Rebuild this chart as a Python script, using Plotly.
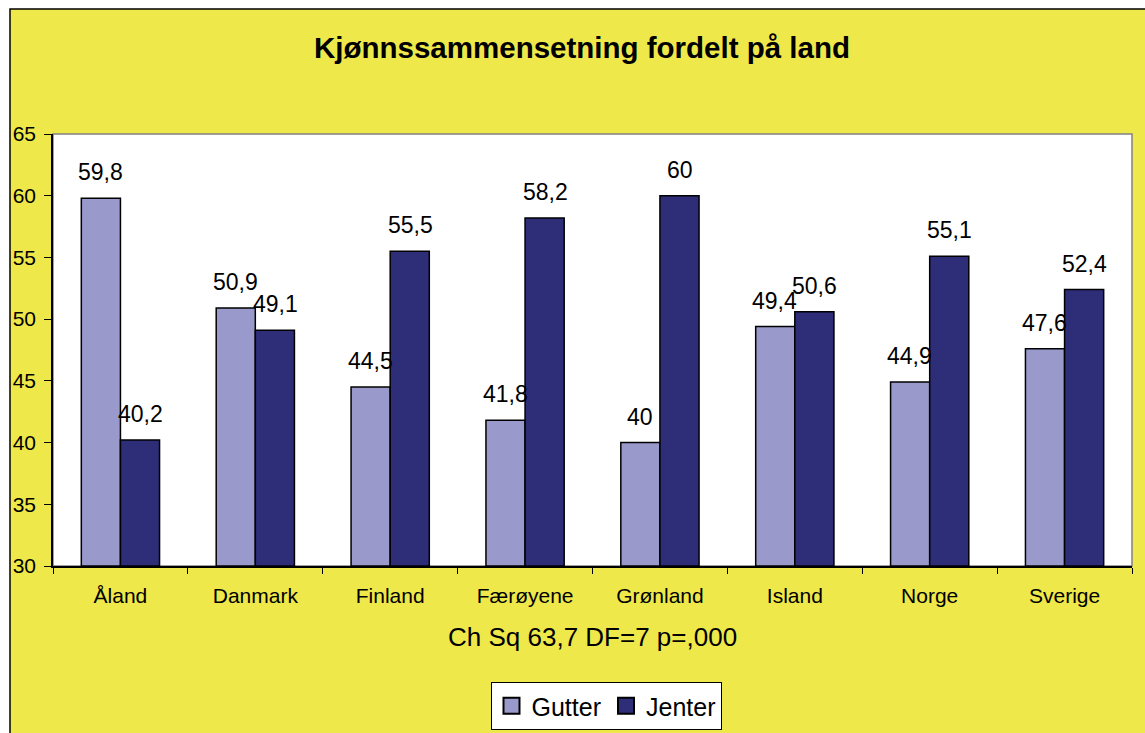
import plotly.graph_objects as go

countries = ["Åland", "Danmark", "Finland", "Færøyene", "Grønland", "Island", "Norge", "Sverige"]
gutter = [59.8, 50.9, 44.5, 41.8, 40.0, 49.4, 44.9, 47.6]
jenter = [40.2, 49.1, 55.5, 58.2, 60.0, 50.6, 55.1, 52.4]
gutter_labels = ["59,8", "50,9", "44,5", "41,8", "40", "49,4", "44,9", "47,6"]
jenter_labels = ["40,2", "49,1", "55,5", "58,2", "60", "50,6", "55,1", "52,4"]
y_ticks = [30, 35, 40, 45, 50, 55, 60, 65]

W, H = 1145, 733
L, R, T, B = 53, 1132, 134, 566
FONT = "Liberation Sans, Arial, sans-serif"
YELLOW = "#EEE84A"
C_G = "#9999CC"
C_J = "#2E2D78"

fig = go.Figure()
fig.add_bar(name="Gutter", x=countries, y=[v - 30 for v in gutter], base=30, showlegend=False,
            marker=dict(color=C_G, line=dict(color="black", width=1.5)))
fig.add_bar(name="Jenter", x=countries, y=[v - 30 for v in jenter], base=30, showlegend=False,
            marker=dict(color=C_J, line=dict(color="black", width=1.5)))
# legend entries with larger square symbols
fig.add_scatter(name="Gutter", x=[None], y=[None], mode="markers",
                marker=dict(symbol="square", size=16, color=C_G, line=dict(color="black", width=2)))
fig.add_scatter(name="Jenter", x=[None], y=[None], mode="markers",
                marker=dict(symbol="square", size=16, color=C_J, line=dict(color="black", width=2)))

pw = R - L
ph = B - T
def px_x(px):
    return (px - L) / pw
def px_y(py):
    return (B - py) / ph

shapes = [
    dict(type="rect", xref="paper", yref="paper", x0=px_x(10), x1=px_x(1160), y0=px_y(9), y1=px_y(760),
         fillcolor=YELLOW, line=dict(color="black", width=1.5), layer="below"),
    dict(type="rect", xref="paper", yref="paper", x0=0, x1=1, y0=0, y1=1,
         fillcolor="white", line=dict(color="#808080", width=1.5), layer="below"),
]

annotations = []
for i, c in enumerate(countries):
    annotations.append(dict(x=c, y=gutter[i], xref="x", yref="y", text=gutter_labels[i], showarrow=False,
                            xshift=-20, yshift=11, yanchor="bottom", font=dict(size=23, color="black", family=FONT)))
    annotations.append(dict(x=c, y=jenter[i], xref="x", yref="y", text=jenter_labels[i], showarrow=False,
                            xshift=20, yshift=11, yanchor="bottom", font=dict(size=23, color="black", family=FONT)))

annotations.append(dict(x=0.5, y=px_y(637), xref="paper", yref="paper", text="Ch Sq 63,7 DF=7 p=,000",
                        showarrow=False, yanchor="middle", font=dict(size=26, color="black", family=FONT)))

fig.update_layout(
    width=W, height=H,
    margin=dict(l=L, r=W - R, t=T, b=H - B, pad=0, autoexpand=False),
    paper_bgcolor="white",
    plot_bgcolor="rgba(0,0,0,0)",
    barmode="group", bargap=0.42, bargroupgap=0,
    title=dict(text="<b>Kjønnssammensetning fordelt på land</b>", x=582 / W, xref="container", xanchor="center",
               y=1 - 48 / H, yref="container", yanchor="middle",
               font=dict(size=29.5, color="black", family=FONT)),
    font=dict(family=FONT, color="black"),
    xaxis=dict(showgrid=False, showline=True, linecolor="black", linewidth=1.5,
               ticks="outside", tickson="boundaries", ticklen=6, tickcolor="black",
               ticklabelstandoff=10,
               tickfont=dict(size=21, family=FONT, color="black")),
    yaxis=dict(range=[30, 65], tickvals=y_ticks, showgrid=False, showline=True, linecolor="black", linewidth=1.5,
               ticks="outside", ticklen=7, tickcolor="black", zeroline=False,
               ticklabelstandoff=4,
               tickfont=dict(size=21, family=FONT, color="black")),
    legend=dict(orientation="h", x=px_x(606), xanchor="center", y=px_y(706), yanchor="middle",
                bgcolor="white", bordercolor="black", borderwidth=1,
                font=dict(size=25, family=FONT, color="black"), itemwidth=30,
                tracegroupgap=0),
    shapes=shapes,
    annotations=annotations,
)

fig.write_html("out.html", config={"displayModeBar": False},
               post_script="document.body.style.margin='0';")
